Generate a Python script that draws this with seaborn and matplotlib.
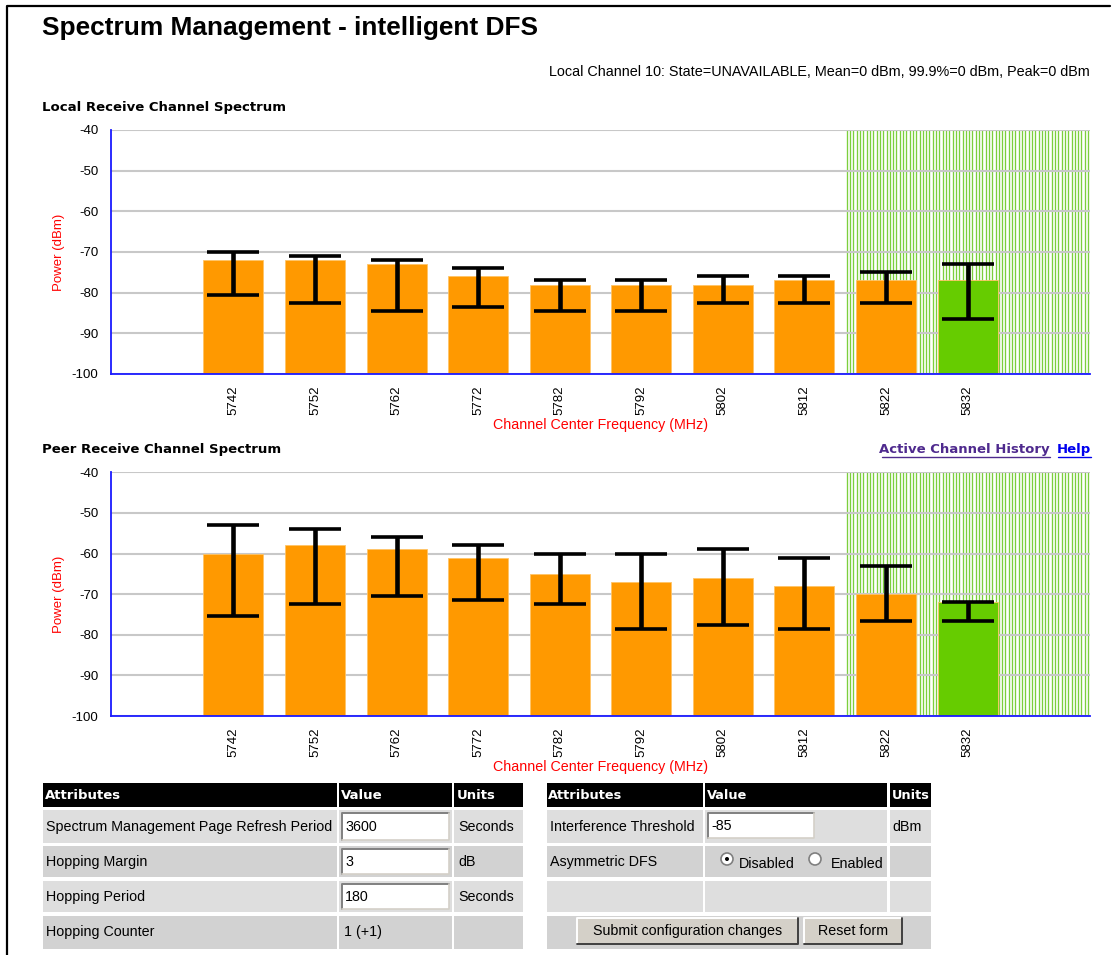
import numpy as np
import pandas as pd
import matplotlib
matplotlib.use("Agg")
import matplotlib.pyplot as plt
from matplotlib.patches import Rectangle, Circle
import seaborn as sns

# ---- data -------------------------------------------------------------
freqs = ["5742", "5752", "5762", "5772", "5782", "5792", "5802", "5812", "5822", "5832"]
active_channel = "5832"
barred_from = "5822"

local_mean = [-72, -72, -73, -76, -78, -78, -78, -77, -77, -77]
local_low = [-80.5, -82.5, -84.5, -83.5, -84.5, -84.5, -82.5, -82.5, -82.5, -86.5]
local_high = [-70, -71, -72, -74, -77, -77, -76, -76, -75, -73]

peer_mean = [-60, -58, -59, -61, -65, -67, -66, -68, -70, -72]
peer_low = [-75.5, -72.5, -70.5, -71.5, -72.5, -78.5, -77.5, -78.5, -76.5, -76.5]
peer_high = [-53, -54, -56, -58, -60, -60, -59, -61, -63, -72]

y_ticks = [-100, -90, -80, -70, -60, -50, -40]

status_line = "Local Channel 10: State=UNAVAILABLE, Mean=0 dBm, 99.9%=0 dBm, Peak=0 dBm"

left_rows = [
    ("Spectrum Management Page Refresh Period", "3600", "Seconds", True),
    ("Hopping Margin", "3", "dB", True),
    ("Hopping Period", "180", "Seconds", True),
    ("Hopping Counter", "1 (+1)", "", False),
]
right_rows = [
    ("Interference Threshold", "-85", "dBm"),
    ("Asymmetric DFS", "", ""),
    ("", "", ""),
]

# ---- style ------------------------------------------------------------
sns.set_style("white")
plt.rcParams["font.family"] = ["Liberation Sans", "DejaVu Sans"]
for key in ("text.color", "axes.labelcolor", "xtick.color", "ytick.color"):
    plt.rcParams[key] = "black"

W, H = 1113, 955
ORANGE = "#ff9900"
GREEN = "#66cc00"
STRIPE = "#7ccf3c"
AXIS_BLUE = "#1a1aff"
GRID = "#c8c8c8"
BOLD = dict(family="DejaVu Sans", weight="bold")

fig = plt.figure(figsize=(W / 100, H / 100), dpi=100)
fig.patch.set_facecolor("white")

# page overlay in pixel coordinates
ov = fig.add_axes([0, 0, 1, 1], zorder=0)
ov.set_xlim(0, W)
ov.set_ylim(H, 0)
ov.axis("off")
ov.patch.set_alpha(0)


def px_axes(left, top, right, bottom):
    return fig.add_axes([left / W, 1 - bottom / H, (right - left) / W, (bottom - top) / H], zorder=1)


slots = ["<"] + freqs + [">"]
xs = [slots.index(f) for f in freqs]
FLOOR = -100


def spectrum(ax, mean, low, high):
    df = pd.DataFrame({"freq": freqs, "power": mean})
    palette = {f: (GREEN if f == active_channel else ORANGE) for f in freqs}
    sns.barplot(data=df, x="freq", y="power", order=slots, hue="freq", palette=palette,
                legend=False, width=0.735, saturation=1, errorbar=None, ax=ax,
                zorder=3, edgecolor="#ffc466", linewidth=0.6)
    # bars rise from the plot floor rather than from zero
    for p in ax.patches:
        top = p.get_y() + p.get_height()
        p.set_y(FLOOR)
        p.set_height(top - FLOOR)

    m = np.array(mean, float)
    yerr = np.vstack([m - np.array(low), np.array(high) - m])
    ax.errorbar(xs, m, yerr=yerr, fmt="none", ecolor="black", elinewidth=3.3,
                capsize=18.6, capthick=2.6, zorder=4)

    # striped band over the barred channels
    x0 = slots.index(barred_from) - 0.5
    x1 = len(slots) - 0.5
    ax.vlines(np.arange(x0 + 0.02, x1, 0.0405), FLOOR, -40, color=STRIPE, lw=0.95, zorder=0.3)

    ax.set_xlim(-0.5, len(slots) - 0.5)
    ax.set_ylim(FLOOR, -40)
    ax.set_yticks(y_ticks)
    ax.set_yticklabels([str(t) for t in y_ticks], fontsize=9.5)
    ax.set_xticks(np.arange(0.5, len(slots) - 1, 1.0))
    ax.set_xticklabels([])
    ax.set_xticks(xs, minor=True)
    ax.set_xticklabels(freqs, minor=True, rotation=90, fontsize=9.5)
    ax.tick_params(axis="x", which="major", direction="out", length=6, width=1.2, color=AXIS_BLUE)
    ax.tick_params(axis="x", which="minor", length=0, pad=8)
    ax.tick_params(axis="y", direction="out", length=6, width=1.2, color=AXIS_BLUE, pad=3)
    ax.set_axisbelow(True)
    ax.yaxis.grid(True, color=GRID, lw=1.5)
    ax.xaxis.grid(False)
    for s in ("top", "right"):
        ax.spines[s].set_visible(False)
    for s in ("left", "bottom"):
        ax.spines[s].set_color(AXIS_BLUE)
        ax.spines[s].set_linewidth(1.3)
        ax.spines[s].set_zorder(5)
    ax.set_xlabel("Channel Center Frequency (MHz)", color="red", fontsize=10.3)
    ax.set_ylabel("Power (dBm)", color="red", fontsize=9.5)
    bbox = ax.get_position()
    ah = bbox.height * H
    aw = bbox.width * W
    ax.xaxis.set_label_coords(0.5, -(44 / ah))
    ax.yaxis.set_label_coords(-(46 / aw), 0.5)


ax1 = px_axes(111, 130, 1090, 374)
spectrum(ax1, local_mean, local_low, local_high)
ax2 = px_axes(111, 472.3, 1090, 716)
spectrum(ax2, peer_mean, peer_low, peer_high)

# ---- page furniture ---------------------------------------------------
ov.plot([6.5, 6.5, 1110], [H + 5, 6.5, 6.5], color="black", lw=1.6)

ov.text(42, 28, "Spectrum Management - intelligent DFS", fontsize=18.9, weight="bold",
        va="center", ha="left")
ov.text(1090, 72, status_line, fontsize=10.36, va="center", ha="right")
ov.text(42, 107, "Local Receive Channel Spectrum", fontsize=9.5, va="center", ha="left", **BOLD)
ov.text(42, 449, "Peer Receive Channel Spectrum", fontsize=9.5, va="center", ha="left", **BOLD)

ov.text(1050, 449, "Active Channel History", fontsize=9.5, va="center", ha="right",
        color="#4f2a8e", **BOLD)
ov.text(1091, 449, "Help", fontsize=9.5, va="center", ha="right", color="#0000ee", **BOLD)
ov.plot([882, 1050], [456.5, 456.5], color="#4f2a8e", lw=1)
ov.plot([1058, 1091], [456.5, 456.5], color="#0000ee", lw=1)


def box(x0, y0, x1, y1, color):
    ov.add_patch(Rectangle((x0, y0), x1 - x0, y1 - y0, facecolor=color, edgecolor="none"))


def text_input(x0, y0, x1, y1, value):
    box(x0, y0, x1, y1, "white")
    ov.plot([x0, x0, x1], [y1, y0, y0], color="#808080", lw=1.4)
    ov.plot([x0, x1, x1], [y1, y1, y0], color="#d4d0c8", lw=1.2)
    ov.text(x0 + 3, (y0 + y1) / 2, value, fontsize=10.3, va="center", ha="left")


def button(x0, y0, x1, y1, label):
    box(x0, y0, x1, y1, "#d4d0c8")
    ov.plot([x0, x0, x1], [y1, y0, y0], color="white", lw=1.4)
    ov.plot([x0, x1, x1], [y1, y1, y0], color="#404040", lw=1.4)
    ov.text((x0 + x1) / 2, (y0 + y1) / 2, label, fontsize=10.3, va="center", ha="center")


def radio(cx, cy, checked):
    ov.add_patch(Circle((cx, cy), 6, facecolor="white", edgecolor="#808080", lw=1.2))
    if checked:
        ov.add_patch(Circle((cx, cy), 2, facecolor="black", edgecolor="none"))


row_y = [(783.3, 807.3), (810, 843.3), (845.7, 877.3), (880.7, 912.3), (915.7, 949)]
row_col = ["black", "#dedede", "#d2d2d2", "#dedede", "#d2d2d2"]

# left table
lcols = [(43.3, 336.7), (339.3, 451.7), (454.3, 523.3)]
for (y0, y1), c in zip(row_y, row_col):
    for (x0, x1) in lcols:
        box(x0, y0, x1, y1, c)
for (x0, _), h in zip(lcols, ["Attributes", "Value", "Units"]):
    ov.text(x0 + 2, 795, h, color="white", fontsize=9.5, va="center", ha="left", **BOLD)
for i, (name, val, unit, editable) in enumerate(left_rows):
    y0, y1 = row_y[i + 1]
    yc = (y0 + y1) / 2
    ov.text(46, yc, name, fontsize=10.3, va="center", ha="left")
    if editable:
        text_input(342, y0 + 3, 449, y1 - 3, val)
    else:
        ov.text(344, yc, val, fontsize=10.3, va="center", ha="left")
    if unit:
        ov.text(458, yc, unit, fontsize=10.3, va="center", ha="left")

# right table
rcols = [(546.7, 702.7), (705, 887.3), (890, 931)]
for (y0, y1), c in zip(row_y[:4], row_col[:4]):
    for (x0, x1) in rcols:
        box(x0, y0, x1, y1, c)
box(546.7, row_y[4][0], 931, row_y[4][1], row_col[4])
for (x0, _), h in zip(rcols, ["Attributes", "Value", "Units"]):
    ov.text(x0 + 1.5, 795, h, color="white", fontsize=9.3, va="center", ha="left", **BOLD)
for i, (name, val, unit) in enumerate(right_rows):
    y0, y1 = row_y[i + 1]
    yc = (y0 + y1) / 2
    if name:
        ov.text(550, yc, name, fontsize=10.3, va="center", ha="left")
    if val:
        text_input(708, y0 + 3, 814, y1 - 5, val)
    if unit:
        ov.text(892, yc, unit, fontsize=10.3, va="center", ha="left")
yc = sum(row_y[2]) / 2
radio(727, yc - 2.5, True)
ov.text(739, yc + 2, "Disabled", fontsize=10.3, va="center", ha="left")
radio(815, yc - 2.5, False)
ov.text(831, yc + 2, "Enabled", fontsize=10.3, va="center", ha="left")
button(577, 918, 798, 943.5, "Submit configuration changes")
button(804, 918, 902, 943.5, "Reset form")

fig.savefig("out.png", dpi=100, facecolor="white")
